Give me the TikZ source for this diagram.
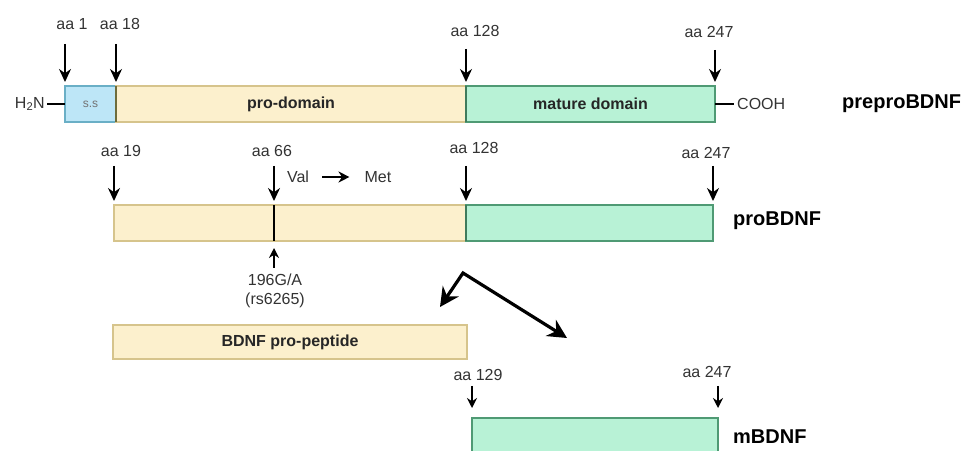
\documentclass[tikz,border=0pt]{standalone}
\usepackage{fontspec}
\setmainfont{Liberation Sans}
\usepackage{tikz}
\usetikzlibrary{arrows.meta}
\usetikzlibrary{positioning,calc}
\usepackage{xcolor}
\definecolor{ssfill}{HTML}{BDE6F7}
\definecolor{ssline}{HTML}{6AAFC6}
\definecolor{profill}{HTML}{FCF0CD}
\definecolor{proline}{HTML}{D6C48C}
\definecolor{matfill}{HTML}{B8F2D6}
\definecolor{matline}{HTML}{4F9A74}
\definecolor{lblgray}{HTML}{333333}
\tikzset{
    seg/.style={
        draw,
        rectangle,
        inner sep=0pt,
        outer sep=0pt,
        line width=1.2pt,
        minimum height=36pt,
        anchor=north west,
        text=black!85,
        font=\fontsize{16}{18}\selectfont\bfseries
    },
    ss seg/.style={seg, fill=ssfill, draw=ssline},
    pro seg/.style={seg, fill=profill, draw=proline},
    mat seg/.style={seg, fill=matfill, draw=matline},
    aa label/.style={
        inner sep=0pt,
        text=lblgray,
        font=\fontsize{16}{18}\selectfont
    },
    form label/.style={
        inner sep=0pt,
        anchor=west,
        font=\fontsize{20}{22}\selectfont\bfseries
    }
}

\begin{document}
\begin{tikzpicture}[
    x = 1pt, y = -1pt,
    > = Stealth,
    site arrow/.style = {-{Stealth[length=13pt, width=12pt]}, line width=1.5pt, shorten <=#1, shorten >=4pt},
    small tip/.style = {-{Stealth[length=10pt, width=10pt]}},
    cleave/.style = {{Stealth[length=19pt, width=19pt]}-{Stealth[length=19pt, width=19pt]}, line width=3.2pt},
    divider/.style = {line width=1.4pt}
]
\clip (0,0) rectangle (963,450);
\fill[white] (0,0) rectangle (963,450);

% Define the preproBDNF segments
\node[ss seg, minimum width=51pt] (ss) at (65,86) {\fontsize{12}{13}\selectfont\mdseries\color{black!55}s.s};
\node[pro seg, minimum width=350pt, right=0pt of ss] (pro) {pro-domain};
\node[mat seg, minimum width=249pt, right=0pt of pro] (mat) {mature domain};
\draw[divider, draw={rgb,255:red,110;green,108;blue,60}] (pro.north west) -- (pro.south west);
\draw[divider, draw=matline!80!black] (mat.north west) -- (mat.south west);

\node[aa label, left=20pt of ss] (nterm) {H\textsubscript{2}N};
\node[aa label, right=22pt of mat] (cterm) {COOH};
\draw[line width=1.6pt, shorten <=2pt] (nterm) -- (ss);
\draw[line width=1.6pt, shorten >=3pt] (mat) -- (cterm);
\node[form label] (prepro) at (842,104) {preproBDNF};

% Cleavage sites on preproBDNF
\node[aa label] (a1) at (72,24) {aa 1};
\node[aa label] (a18) at (120,24) {aa 18};
\node[aa label] (a128) at (475,31) {aa 128};
\node[aa label] (a247) at (709,32) {aa 247};
\draw[site arrow=14pt] (a1.south -| ss.north west) -- (ss.north west);
\draw[site arrow=14pt] (a18.south -| pro.north west) -- (pro.north west);
\draw[site arrow=12pt] (a128.south -| mat.north west) -- (mat.north west);
\draw[site arrow=12pt] (a247.south -| mat.north east) -- (mat.north east);

% Define the proBDNF segments
\node[pro seg, minimum width=352pt] (pro2) at (114,205) {};
\node[mat seg, minimum width=247pt, right=0pt of pro2] (mat2) {};
\draw[divider, draw=matline!80!black] (mat2.north west) -- (mat2.south west);
\node[form label] (probdnf) at (733,221) {proBDNF};

\node[aa label] (b19) at (121,151) {aa 19};
\node[aa label] (b66) at (272,151) {aa 66};
\node[aa label] (b128) at (474,148) {aa 128};
\node[aa label] (b247) at (706,153) {aa 247};
\coordinate (snp) at (274,205);
\draw[line width=2.2pt] (snp) -- (snp |- pro2.south);
\draw[site arrow=9pt] (b19.south -| pro2.north west) -- (pro2.north west);
\draw[site arrow=9pt] (b66.south -| snp) -- (snp);
\draw[site arrow=12pt] (b128.south -| mat2.north west) -- (mat2.north west);
\draw[site arrow=7pt] (b247.south -| mat2.north east) -- (mat2.north east);

% Val to Met substitution
\node[aa label] (val) at (298,177) {Val};
\node[aa label] (met) at (378,177) {Met};
\draw[-{Stealth[length=11pt, width=11pt]}, line width=1.8pt, shorten <=13pt, shorten >=15pt] (val) -- (met);

% Polymorphism label
\node[aa label, align=center] (rs) at (275,291) {196G/A\\[1pt](rs6265)};
\draw[site arrow=6pt, shorten >=7pt, small tip] (rs.north -| snp) -- (snp |- pro2.south);

% Cleavage into the two products
\coordinate (split) at (463,273);
\coordinate (to pep) at (440,307);
\coordinate (to mat) at (567,338);
\draw[cleave] (to pep) -- (split) -- (to mat);

% Define the products
\node[pro seg, minimum width=354pt, minimum height=34pt] (pep) at (113,325) {BDNF pro-peptide};
\node[mat seg, minimum width=246pt, minimum height=40pt] (mb) at (472,418) {};
\node[form label] (mbdnf) at (733,437) {mBDNF};

\node[aa label] (c129) at (478,375) {aa 129};
\node[aa label] (c247) at (707,372) {aa 247};
\draw[site arrow=5pt, shorten >=10pt, small tip] (c129.south -| mb.north west) -- (mb.north west);
\draw[site arrow=8pt, shorten >=10pt, small tip] (c247.south -| mb.north east) -- (mb.north east);

\end{tikzpicture}
\end{document}
